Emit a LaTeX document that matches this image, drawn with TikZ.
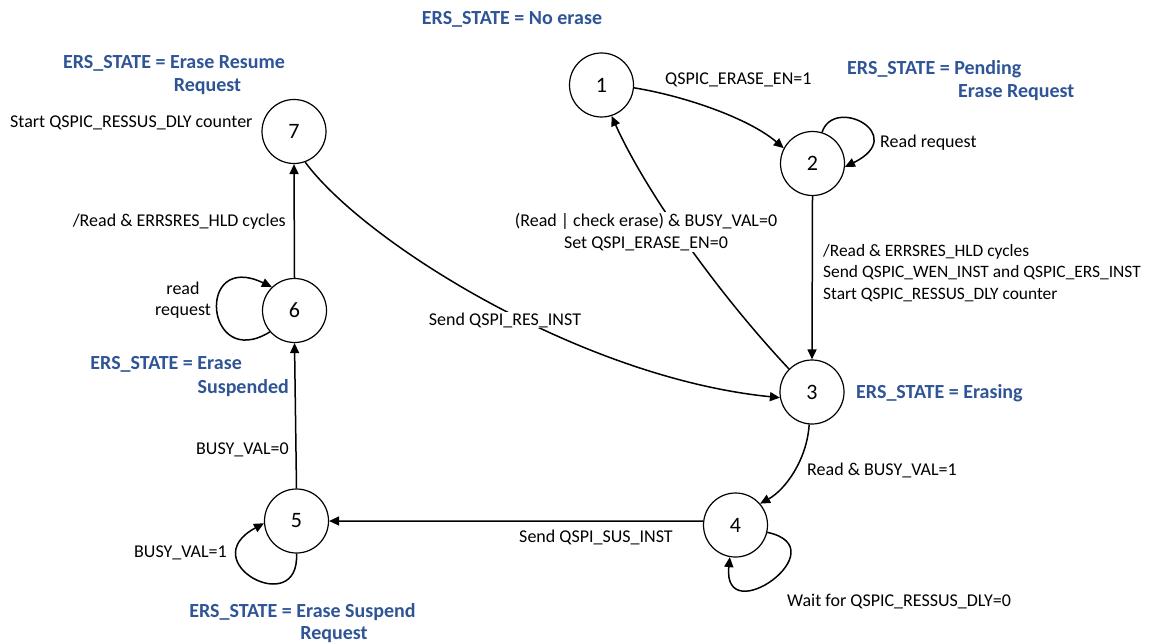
\documentclass[tikz,border=0pt]{standalone}
\usepackage{fontspec}
\setmainfont{Carlito}
\usetikzlibrary{arrows.meta}
\definecolor{ersblue}{RGB}{47,85,151}
\begin{document}
\begin{tikzpicture}[x=1pt,y=-1pt,
  state/.style={circle,draw,line width=1.2pt,minimum size=64pt,inner sep=0pt,font=\fontsize{22}{26}\selectfont},
  arr/.style={line width=1.5pt,-{Triangle[length=10pt,width=9pt]}},
  lbl/.style={font=\fontsize{18}{21.5}\selectfont,inner sep=1pt},
  ers/.style={font=\bfseries\fontsize{20}{24}\selectfont,text=ersblue,inner sep=0pt}]
\useasboundingbox (0,0) rectangle (1150,644);
\fill[white] (0,0) rectangle (1150,644);
% states
\node[state] (c1) at (601.5,85) {1};
\node[state] (c2) at (812.5,163.5) {2};
\node[state] (c3) at (812,392) {3};
\node[state] (c4) at (735.5,525) {4};
\node[state] (c5) at (296.5,521) {5};
\node[state] (c6) at (294.5,310.5) {6};
\node[state] (c7) at (294,131.5) {7};
% transitions
\draw[arr] (c1.-5) .. controls +(50,8) and +(-35,-30) .. (c2.152);
\draw[arr] (c2.73) .. controls +(12,-37) and +(65,-32) .. (c2.-6);
\draw[arr] (c2.south) -- (c3.north);
\draw[arr] (c3.135) .. controls (715,290) and (645,190) .. (c1.-72);
\draw[arr] (c7.-70) .. controls (365,243) and (582,378) .. (c3.-170);
\draw[arr] (c3.-95) .. controls (807,460) and (785,490) .. (c4.41);
\draw[arr] (c4.-13) .. controls (840,548) and (722,632) .. (c4.-100);
\draw[arr] (c4.173) -- (c5.east);
\draw[arr] (c5.south) .. controls (300,620) and (192,562) .. (c5.184);
\draw[arr] (c5.north) -- (c6.south);
\draw[arr] (c6.221) .. controls (205,372) and (195,250) .. (c6.134);
\draw[arr] (c6.north) -- (c7.south);
% labels
\node[lbl,fill=white,align=center] (l31) at (646,232) {(Read | check erase) \& BUSY\_VAL=0\\Set QSPI\_ERASE\_EN=0};
\node[lbl,fill=white] (l73) at (505,320) {Send QSPI\_RES\_INST};
\node[lbl,anchor=west] (t7) at (9,123) {Start QSPIC\_RESSUS\_DLY counter};
\node[lbl,anchor=east] (t67) at (287,222) {/Read \& ERRSRES\_HLD cycles};
\node[lbl,align=center] (t6) at (183,300) {read\\request};
\node[lbl,anchor=east] (t56) at (290,450) {BUSY\_VAL=0};
\node[lbl,anchor=east] (t5) at (228,553) {BUSY\_VAL=1};
\node[lbl] (t45) at (596,537) {Send QSPI\_SUS\_INST};
\node[lbl,anchor=west] (t4) at (786,602) {Wait for QSPIC\_RESSUS\_DLY=0};
\node[lbl,anchor=west] (t34) at (806,470) {Read \& BUSY\_VAL=1};
\node[lbl,anchor=west,align=left,font=\fontsize{17.4}{21.5}\selectfont] (t23) at (822,273) {/Read \& ERRSRES\_HLD cycles\\Send QSPIC\_WEN\_INST and QSPIC\_ERS\_INST\\Start QSPIC\_RESSUS\_DLY counter};
\node[lbl,anchor=west] (t2) at (879,143) {Read request};
\node[lbl,anchor=west] (t12) at (664,80) {QSPIC\_ERASE\_EN=1};
% state annotations
\node[ers] (s1) at (512,19) {ERS\_STATE = No erase};
\node[ers] (s7a) at (174,63) {ERS\_STATE = Erase Resume};
\node[ers] (s7b) at (207.5,87) {Request};
\node[ers,anchor=west] (s2a) at (847,69) {ERS\_STATE = Pending};
\node[ers,anchor=west] (s2b) at (958,93) {Erase Request};
\node[ers,anchor=west] (s3) at (856,393) {ERS\_STATE = Erasing};
\node[ers,anchor=east] (s6a) at (242,364) {ERS\_STATE = Erase};
\node[ers,anchor=east] (s6b) at (289,388) {Suspended};
\node[ers] (s5a) at (302.5,612) {ERS\_STATE = Erase Suspend};
\node[ers] (s5b) at (334,635) {Request};
\end{tikzpicture}
\end{document}
